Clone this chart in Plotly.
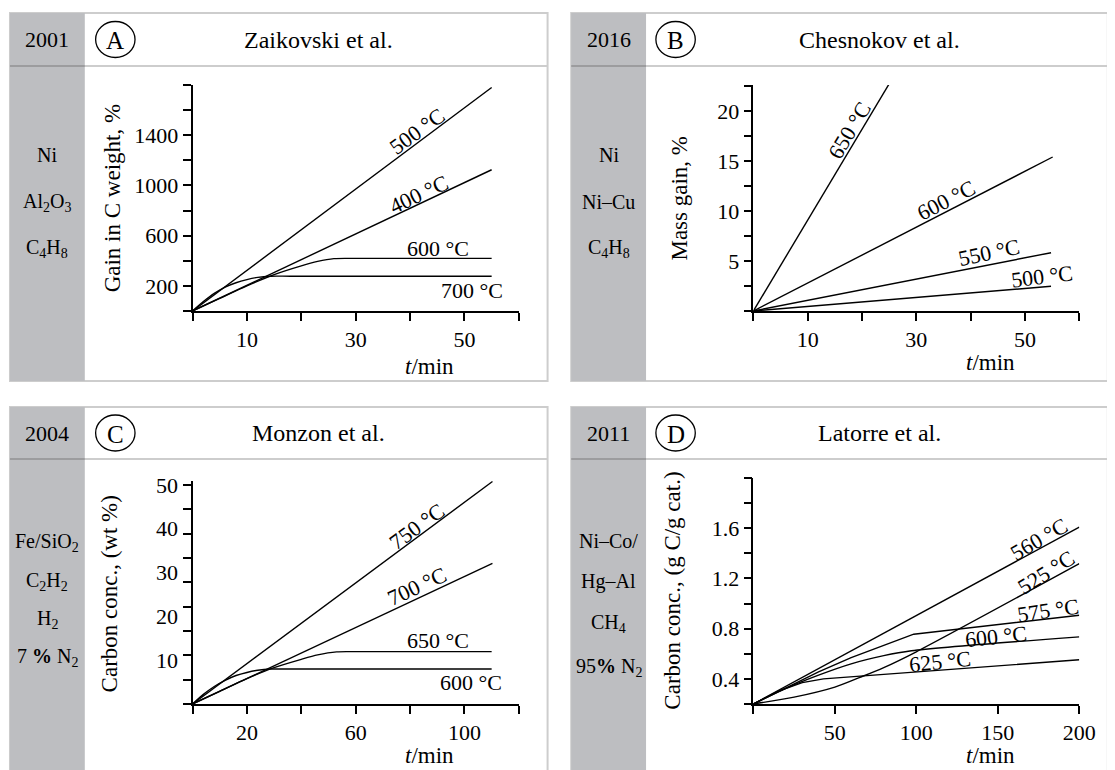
import plotly.graph_objects as go

# The page body has an 8 px margin, so the figure is drawn 8 px smaller
# and all pixel positions below are given in window coordinates.
OFF = 8
W, H = 1115 - OFF, 770 - OFF
FONT = "Liberation Serif, Times New Roman, serif"

# ---------------- data ----------------
# Panel A (Zaikovski et al., 2001)
A_500_t = [0, 55]
A_500 = [0, 1780]
A_400_t = [0, 55]
A_400 = [0, 1125]
A_600_t = [0, 5, 10, 15, 20, 23, 26, 30, 55]
A_600 = [0, 100, 200, 290, 360, 395, 417, 419, 419]
A_700_t = [0, 2, 4, 6, 8, 10, 12, 14.4, 18, 55]
A_700 = [0, 75, 140, 190, 225, 250, 268, 277, 277, 277]

# Panel B (Chesnokov et al., 2016)
B_650_t = [0, 25.2]
B_650 = [0, 22.9]
B_600_t = [0, 55.1]
B_600 = [0, 15.4]
B_550_t = [0, 54.8]
B_550 = [0, 5.83]
B_500_t = [0, 54.8]
B_500 = [0, 2.47]

# Panel C (Monzon et al., 2004)
C_750_t = [0, 110.3]
C_750 = [0, 50.8]
C_700_t = [0, 110.3]
C_700 = [0, 32.1]
C_650_t = [0, 10, 20, 30, 40, 46, 53, 60, 110]
C_650 = [0, 2.9, 5.8, 8.3, 10.2, 11.2, 11.9, 11.95, 11.95]
C_600_t = [0, 4, 8, 12, 16, 20, 24, 28.8, 35, 110]
C_600 = [0, 2.2, 4.0, 5.4, 6.5, 7.2, 7.7, 7.98, 8.0, 8.0]

# Panel D (Latorre et al., 2011)
D_560_t = [0, 200]
D_560 = [0.2, 1.609]
D_525_t = [0, 25, 50, 65, 80, 100, 200]
D_525 = [0.2, 0.255, 0.335, 0.41, 0.49, 0.616, 1.318]
D_575_t = [0, 20, 40, 60, 80, 98.4, 200]
D_575 = [0.2, 0.33, 0.455, 0.57, 0.67, 0.756, 0.907]
D_600_t = [0, 20, 40, 60, 80, 97, 200]
D_600 = [0.2, 0.325, 0.43, 0.52, 0.585, 0.624, 0.735]
D_625_t = [0, 15, 30, 43, 200]
D_625 = [0.2, 0.3, 0.37, 0.4, 0.552]

# tick values / labels
A_xticks = [0, 10, 20, 30, 40, 50, 60]
A_xlabels = ["", "10", "", "30", "", "50", ""]
A_yticks = [0, 200, 400, 600, 800, 1000, 1200, 1400, 1600, 1800]
A_ylabels = ["", "200", "", "600", "", "1000", "", "1400", "", ""]
B_xticks = [0, 10, 20, 30, 40, 50, 60]
B_xlabels = ["", "10", "", "30", "", "50", ""]
B_yticks = [0, 2.5, 5, 7.5, 10, 12.5, 15, 17.5, 20, 22.5]
B_ylabels = ["", "", "5", "", "10", "", "15", "", "20", ""]
C_xticks = [0, 20, 40, 60, 80, 100, 120]
C_xlabels = ["", "20", "", "60", "", "100", ""]
C_yticks = [k * 50 / 9 for k in range(10)]
C_ylabel_vals = [10, 20, 30, 40, 50]
D_xticks = [0, 50, 100, 150, 200]
D_xlabels = ["", "50", "100", "150", "200"]
D_yticks = [0.2, 0.4, 0.6, 0.8, 1.0, 1.2, 1.4, 1.6, 1.8, 2.0]
D_ylabels = ["", "0.4", "", "0.8", "", "1.2", "", "1.6", "", ""]

# panel texts
years = ["2001", "2016", "2004", "2011"]
letters = ["A", "B", "C", "D"]
authors = ["Zaikovski et al.", "Chesnokov et al.", "Monzon et al.", "Latorre et al."]
side_A = ["Ni", "Al<sub>2</sub>O<sub>3</sub>", "C<sub>4</sub>H<sub>8</sub>"]
side_B = ["Ni", "Ni–Cu", "C<sub>4</sub>H<sub>8</sub>"]
side_C = ["Fe/SiO<sub>2</sub>", "C<sub>2</sub>H<sub>2</sub>", "H<sub>2</sub>", "7 <b>%</b> N<sub>2</sub>"]
side_D = ["Ni–Co/", "Hg–Al", "CH<sub>4</sub>", "95<b>%</b> N<sub>2</sub>"]
ytitles = ["Gain in C weight, %", "Mass gain, %", "Carbon conc., (wt %)", "Carbon conc., (g C/g cat.)"]

# ---------------- helpers ----------------
def X(px):
    return (px - OFF) / W

def Y(py):
    return 1 - (py - OFF) / H

fig = go.Figure()

def add_line(t, v, ax, shape="linear"):
    fig.add_trace(go.Scatter(x=t, y=v, mode="lines", xaxis=ax[0], yaxis=ax[1],
                             line=dict(color="black", width=1.4, shape=shape, smoothing=0.8),
                             showlegend=False, hoverinfo="skip", cliponaxis=True))

add_line(A_500_t, A_500, ("x", "y"))
add_line(A_400_t, A_400, ("x", "y"))
add_line(A_600_t, A_600, ("x", "y"), "spline")
add_line(A_700_t, A_700, ("x", "y"), "spline")

add_line(B_650_t, B_650, ("x2", "y2"))
add_line(B_600_t, B_600, ("x2", "y2"))
add_line(B_550_t, B_550, ("x2", "y2"))
add_line(B_500_t, B_500, ("x2", "y2"))

add_line(C_750_t, C_750, ("x3", "y3"))
add_line(C_700_t, C_700, ("x3", "y3"))
add_line(C_650_t, C_650, ("x3", "y3"), "spline")
add_line(C_600_t, C_600, ("x3", "y3"), "spline")

add_line(D_560_t, D_560, ("x4", "y4"))
add_line(D_525_t, D_525, ("x4", "y4"), "spline")
add_line(D_575_t, D_575, ("x4", "y4"))
add_line(D_600_t, D_600, ("x4", "y4"), "spline")
add_line(D_625_t, D_625, ("x4", "y4"))

def axis(domain, rng, tickvals, ticktext, anchor):
    return dict(domain=domain, range=rng, tickmode="array", tickvals=tickvals, ticktext=ticktext,
                ticks="outside", ticklen=8, tickwidth=1.6, tickcolor="black",
                showline=True, linecolor="black", linewidth=1.6, showgrid=False, zeroline=False,
                tickfont=dict(family=FONT, size=22, color="black"), anchor=anchor, fixedrange=True)

xdomL = [X(195.4), X(526.8)]
xdomR = [X(765), X(1096)]
ydomT = [Y(311), Y(85)]
ydomB = [Y(704), Y(704 - 51 * 4.38)]
ydomD = [Y(704), Y(478)]

layout = dict(
    width=W, height=H, margin=dict(l=0, r=0, t=0, b=0),
    paper_bgcolor="white", plot_bgcolor="rgba(0,0,0,0)",
    font=dict(family=FONT, color="black"),
    xaxis=axis(xdomL, [0, 60], A_xticks, A_xlabels, "y"),
    yaxis=axis(ydomT, [0, 1800], A_yticks, A_ylabels, "x"),
    xaxis2=axis(xdomR, [0, 60], B_xticks, B_xlabels, "y2"),
    yaxis2=axis(ydomT, [0, 22.6], B_yticks, B_ylabels, "x2"),
    xaxis3=axis(xdomL, [0, 120], C_xticks, C_xlabels, "y3"),
    yaxis3=axis(ydomB, [0, 51], C_yticks, [""] * len(C_yticks), "x3"),
    xaxis4=axis(xdomR, [0, 200], D_xticks, D_xlabels, "y4"),
    yaxis4=axis(ydomD, [0.2, 2.0], D_yticks, D_ylabels, "x4"),
)
fig.update_layout(**layout)

shapes = []
annotations = []

SIDE = "#bdbec1"
BORDER = "#cdcdcd"

panels = [
    # x0, y0, x1, y1, sidebar right, header line y, side texts, side text ys
    (10, 13, 556, 381, 86, 66, side_A, [155, 202, 248]),
    (580, 13, 1125, 381, 656, 66, side_B, [155, 202, 248]),
    (10, 407, 556, 780, 86, 459, side_C, [542, 581, 619, 657]),
    (580, 407, 1125, 780, 656, 459, side_D, [541, 581, 623, 667]),
]
circle_cx = [117, 686, 117, 686]
title_cx = [323, 893, 323, 893]

for i, (x0, y0, x1, y1, sr, hy, stexts, sys_) in enumerate(panels):
    shapes.append(dict(type="rect", xref="paper", yref="paper", x0=X(x0), x1=X(x1), y0=Y(y1), y1=Y(y0),
                       fillcolor="white", line=dict(color=BORDER, width=2), layer="below"))
    shapes.append(dict(type="rect", xref="paper", yref="paper", x0=X(x0), x1=X(sr), y0=Y(y1), y1=Y(y0),
                       fillcolor=SIDE, line=dict(width=0), layer="below"))
    shapes.append(dict(type="line", xref="paper", yref="paper", x0=X(sr), x1=X(x1), y0=Y(hy), y1=Y(hy),
                       line=dict(color=BORDER, width=2), layer="below"))
    shapes.append(dict(type="line", xref="paper", yref="paper", x0=X(x0), x1=X(sr), y0=Y(hy), y1=Y(hy),
                       line=dict(color="#9c9c9e", width=2), layer="below"))
    cy = (y0 + hy) / 2
    cx = circle_cx[i]
    shapes.append(dict(type="circle", xref="paper", yref="paper", x0=X(cx - 20), x1=X(cx + 20),
                       y0=Y(cy + 18), y1=Y(cy - 18), line=dict(color="black", width=1.3)))
    annotations.append(dict(x=X(cx), y=Y(cy + 1), xref="paper", yref="paper", text=letters[i],
                            showarrow=False, font=dict(family=FONT, size=25), xanchor="center", yanchor="middle"))
    annotations.append(dict(x=X((x0 + sr) / 2), y=Y(cy), xref="paper", yref="paper", text=years[i],
                            showarrow=False, font=dict(family=FONT, size=22), xanchor="center", yanchor="middle"))
    annotations.append(dict(x=X(title_cx[i]), y=Y(cy), xref="paper", yref="paper", text=authors[i],
                            showarrow=False, font=dict(family=FONT, size=24), xanchor="center", yanchor="middle"))
    for t, yy in zip(stexts, sys_):
        annotations.append(dict(x=X((x0 + sr) / 2), y=Y(yy), xref="paper", yref="paper", text=t,
                                showarrow=False, font=dict(family=FONT, size=20), xanchor="center", yanchor="middle"))

# axis titles (rotated)
ytitle_pos = [(114, 198), (689, 198), (111, 594), (682, 591)]
for t, (px, py) in zip(ytitles, ytitle_pos):
    annotations.append(dict(x=X(px), y=Y(py), xref="paper", yref="paper", text=t, textangle=-90,
                            showarrow=False, font=dict(family=FONT, size=23), xanchor="center", yanchor="middle"))

tmin_pos = [(436, 366), (1006, 362), (436, 755), (1006, 755)]
for px, py in tmin_pos:
    annotations.append(dict(x=X(px), y=Y(py), xref="paper", yref="paper", text="<i>t</i>/min",
                            showarrow=False, font=dict(family=FONT, size=23), xanchor="center", yanchor="middle"))

# C y tick labels (spaced linearly, ticks are at 50/9 steps)
for v in C_ylabel_vals:
    annotations.append(dict(x=X(183), y=v, xref="paper", yref="y3", text=str(v), showarrow=False,
                            font=dict(family=FONT, size=22), xanchor="right", yanchor="middle"))

# curve labels: (text, x, y, angle, axes)
curve_labels = [
    ("500 °C", 41.2, 1432, -36, "x", "y"),
    ("400 °C", 41.6, 925, -25, "x", "y"),
    ("600 °C", 45.1, 499, 0, "x", "y"),
    ("700 °C", 51.3, 165, 0, "x", "y"),
    ("650 °C", 17.6, 18.1, -59, "x2", "y2"),
    ("600 °C", 35.4, 11.1, -27, "x2", "y2"),
    ("550 °C", 43.4, 5.9, -12, "x2", "y2"),
    ("500 °C", 53.1, 3.47, -7, "x2", "y2"),
    ("750 °C", 82.5, 40.5, -36, "x3", "y3"),
    ("700 °C", 82.5, 26.8, -25, "x3", "y3"),
    ("650 °C", 90.3, 14.4, 0, "x3", "y3"),
    ("600 °C", 102.5, 4.87, 0, "x3", "y3"),
    ("560 °C", 175, 1.511, -30, "x4", "y4"),
    ("525 °C", 179.5, 1.25, -32, "x4", "y4"),
    ("575 °C", 180.5, 0.947, -8, "x4", "y4"),
    ("600 °C", 149, 0.735, -6, "x4", "y4"),
    ("625 °C", 114.6, 0.542, -6, "x4", "y4"),
]
for t, xv, yv, ang, xr, yr in curve_labels:
    annotations.append(dict(x=xv, y=yv, xref=xr, yref=yr, text=t, textangle=ang, showarrow=False,
                            font=dict(family=FONT, size=22), xanchor="center", yanchor="middle"))

fig.update_layout(shapes=shapes, annotations=annotations)
fig.write_html("out.html")
